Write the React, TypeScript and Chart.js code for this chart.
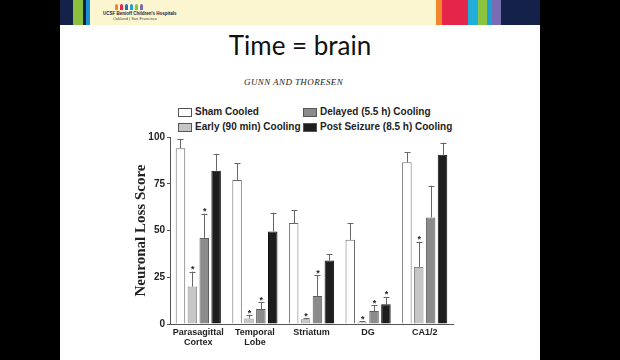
import React, { useEffect, useRef } from "react";
import { Chart, registerables } from "chart.js";

Chart.register(...registerables);

const categories: (string | string[])[] = [["Parasagittal", "Cortex"], ["Temporal", "Lobe"], "Striatum", "DG", "CA1/2"];
const seriesNames = ["Sham Cooled", "Early (90 min) Cooling", "Delayed (5.5 h) Cooling", "Post Seizure (8.5 h) Cooling"];
const sham = [94, 77, 54, 45, 86.5];
const early = [20, 3, 2.5, 1, 30.5];
const delayed = [46, 8, 15, 7, 57];
const postSeizure = [82, 49.5, 34, 10.5, 90.5];
const shamErr = [5, 9, 7, 9, 5.5];
const earlyErr = [8, 1.6, 0.6, 0.6, 13.5];
const delayedErr = [13, 3.5, 11, 3, 17];
const postErr = [9, 10, 3.5, 4, 6.5];
const shamStar = [false, false, false, false, false];
const earlyStar = [true, true, true, true, true];
const delayedStar = [true, true, true, true, false];
const postStar = [false, false, false, true, false];
const yTicks = [0, 25, 50, 75, 100];

const fills = ["#ffffff", "#c6c6c6", "#8b8b8b", "#1e1e1e"];
const borders = ["#6a6a6a", "#8a8a8a", "#5e5e5e", "#111111"];

const errorBarPlugin = {
  id: "errorBars",
  afterDatasetsDraw(chart: any) {
    const ctx = chart.ctx;
    const yScale = chart.scales.y;
    chart.data.datasets.forEach((ds: any, di: number) => {
      const meta = chart.getDatasetMeta(di);
      meta.data.forEach((bar: any, i: number) => {
        const err = ds.errors[i];
        const top = yScale.getPixelForValue(ds.data[i] + err);
        const x = bar.x;
        ctx.save();
        ctx.strokeStyle = "#666";
        ctx.lineWidth = 1;
        ctx.beginPath();
        ctx.moveTo(Math.round(x) + 0.5, bar.y);
        ctx.lineTo(Math.round(x) + 0.5, top);
        ctx.moveTo(Math.round(x) - 2.5, Math.round(top) + 0.5);
        ctx.lineTo(Math.round(x) + 3.5, Math.round(top) + 0.5);
        ctx.stroke();
        if (ds.stars[i]) {
          ctx.fillStyle = "#222";
          ctx.font = "bold 9px 'Liberation Sans', Arial, sans-serif";
          ctx.textAlign = "center";
          ctx.textBaseline = "alphabetic";
          ctx.fillText("*", x + 0.5, top + 0.5);
        }
        ctx.restore();
      });
    });
  },
};

function ChartCanvas() {
  const ref = useRef<HTMLCanvasElement>(null);
  useEffect(() => {
    if (!ref.current) return;
    const values = [sham, early, delayed, postSeizure];
    const errs = [shamErr, earlyErr, delayedErr, postErr];
    const stars = [shamStar, earlyStar, delayedStar, postStar];
    const chart = new Chart(ref.current, {
      type: "bar",
      data: {
        labels: categories,
        datasets: seriesNames.map((name, k) => ({
          label: name,
          data: values[k],
          errors: errs[k],
          stars: stars[k],
          backgroundColor: fills[k],
          borderColor: borders[k],
          borderWidth: 1,
          categoryPercentage: 0.84,
          barPercentage: 0.8,
        })) as any,
      },
      options: {
        responsive: false,
        animation: false,
        layout: { padding: { left: 18, right: 17, top: 9, bottom: 0 } },
        plugins: { legend: { display: false }, tooltip: { enabled: false } },
        scales: {
          x: {
            grid: { display: false, drawTicks: true, tickLength: 2 },
            border: { display: true, color: "#555", width: 1 },
            ticks: {
              color: "#222",
              font: { family: "'Liberation Sans', Arial, sans-serif", size: 9, weight: "bold", lineHeight: 1.15 },
              padding: 1,
              maxRotation: 0,
              autoSkip: false,
            },
            afterFit: (s: any) => { s.height = 28; },
          },
          y: {
            min: 0,
            max: 100,
            afterBuildTicks: (s: any) => { s.ticks = yTicks.map((v) => ({ value: v })); },
            grid: { drawOnChartArea: false, drawTicks: true, tickLength: 3, color: "#555" },
            border: { display: true, color: "#555", width: 1 },
            ticks: {
              color: "#222",
              font: { family: "'Liberation Sans', Arial, sans-serif", size: 10, weight: "bold" },
              padding: 2,
            },
            title: {
              display: true,
              text: "Neuronal Loss Score",
              color: "#222",
              font: { family: "'Liberation Serif', 'Times New Roman', serif", size: 15, weight: "bold" },
              padding: { top: 4, bottom: 4 },
            },
            afterFit: (s: any) => { s.width = 42; },
          },
        },
      } as any,
      plugins: [errorBarPlugin],
    });
    return () => chart.destroy();
  }, []);
  return (
    <canvas
      ref={ref}
      width={360}
      height={224}
      style={{ position: "absolute", left: 110, top: 128, width: 360, height: 224 }}
    />
  );
}

const legendItems = [
  { name: seriesNames[0], color: fills[0], x: 178, y: 112 },
  { name: seriesNames[2], color: fills[2], x: 303, y: 112 },
  { name: seriesNames[1], color: fills[1], x: 178, y: 127 },
  { name: seriesNames[3], color: fills[3], x: 303, y: 127 },
];

const leftStripes = [
  { x: 60, w: 13, c: "#14224a" },
  { x: 73, w: 10, c: "#8dbf3e" },
  { x: 83, w: 3, c: "#14224a" },
  { x: 86, w: 4, c: "#1a8fd2" },
];
const rightStripes = [
  { x: 436, w: 6, c: "#f2862a" },
  { x: 442, w: 26, c: "#e4264b" },
  { x: 468, w: 10, c: "#22aedb" },
  { x: 478, w: 9, c: "#8dc43f" },
  { x: 487, w: 5, c: "#1e9fd6" },
  { x: 492, w: 9, c: "#7a6cb3" },
  { x: 501, w: 39, c: "#14224a" },
];
const figures = ["#f2862a", "#e4264b", "#2f6fb8", "#1e9fd6", "#8dc43f", "#7a6cb3"];

export default function App() {
  return (
    <div style={{ position: "fixed", left: 0, top: 0, width: 620, height: 360, background: "#000", overflow: "hidden" }}>
      <div style={{ position: "absolute", left: 60, top: 0, width: 480, height: 360, background: "#fff" }} />
      <div style={{ position: "absolute", left: 60, top: 0, width: 480, height: 25, background: "#fcf6d0" }} />
      {leftStripes.concat(rightStripes).map((s, i) => (
        <div key={i} style={{ position: "absolute", left: s.x, top: 0, width: s.w, height: 25, background: s.c }} />
      ))}
      {figures.map((c, i) => (
        <div key={"f" + i} style={{ position: "absolute", left: 115 + i * 5, top: 4, width: 3, height: 6, background: c, borderRadius: "1.5px 1.5px 0 0" }} />
      ))}
      <div style={{ position: "absolute", left: 103, top: 11, fontFamily: "'Liberation Sans', Arial, sans-serif", fontSize: 4.5, fontWeight: "bold", color: "#14224a", whiteSpace: "nowrap", lineHeight: "5px" }}>
        UCSF Benioff Children's Hospitals
      </div>
      <div style={{ position: "absolute", left: 113, top: 16, fontFamily: "'Liberation Sans', Arial, sans-serif", fontSize: 4, color: "#444", whiteSpace: "nowrap", lineHeight: "5px" }}>
        Oakland | San Francisco
      </div>
      <div style={{ position: "absolute", left: 60, width: 480, top: 32, textAlign: "center", fontFamily: "Lato, 'Open Sans', sans-serif", fontSize: 26, lineHeight: "26px", color: "#111" }}>
        Time = brain
      </div>
      <div style={{ position: "absolute", left: 244, top: 77, fontFamily: "'Liberation Serif', 'Times New Roman', serif", fontStyle: "italic", fontSize: 9, letterSpacing: 0.4, lineHeight: "10px", color: "#222", whiteSpace: "nowrap" }}>
        GUNN AND THORESEN
      </div>
      {legendItems.map((it, i) => (
        <div key={"l" + i}>
          <div style={{ position: "absolute", left: it.x, top: it.y - 4, width: 12, height: 7, background: it.color, border: "1px solid #555" }} />
          <div style={{ position: "absolute", left: it.x + 17, top: it.y - 6, fontFamily: "'Liberation Sans', Arial, sans-serif", fontWeight: "bold", fontSize: 10, lineHeight: "12px", color: "#222", whiteSpace: "nowrap" }}>
            {it.name}
          </div>
        </div>
      ))}
      <ChartCanvas />
    </div>
  );
}
